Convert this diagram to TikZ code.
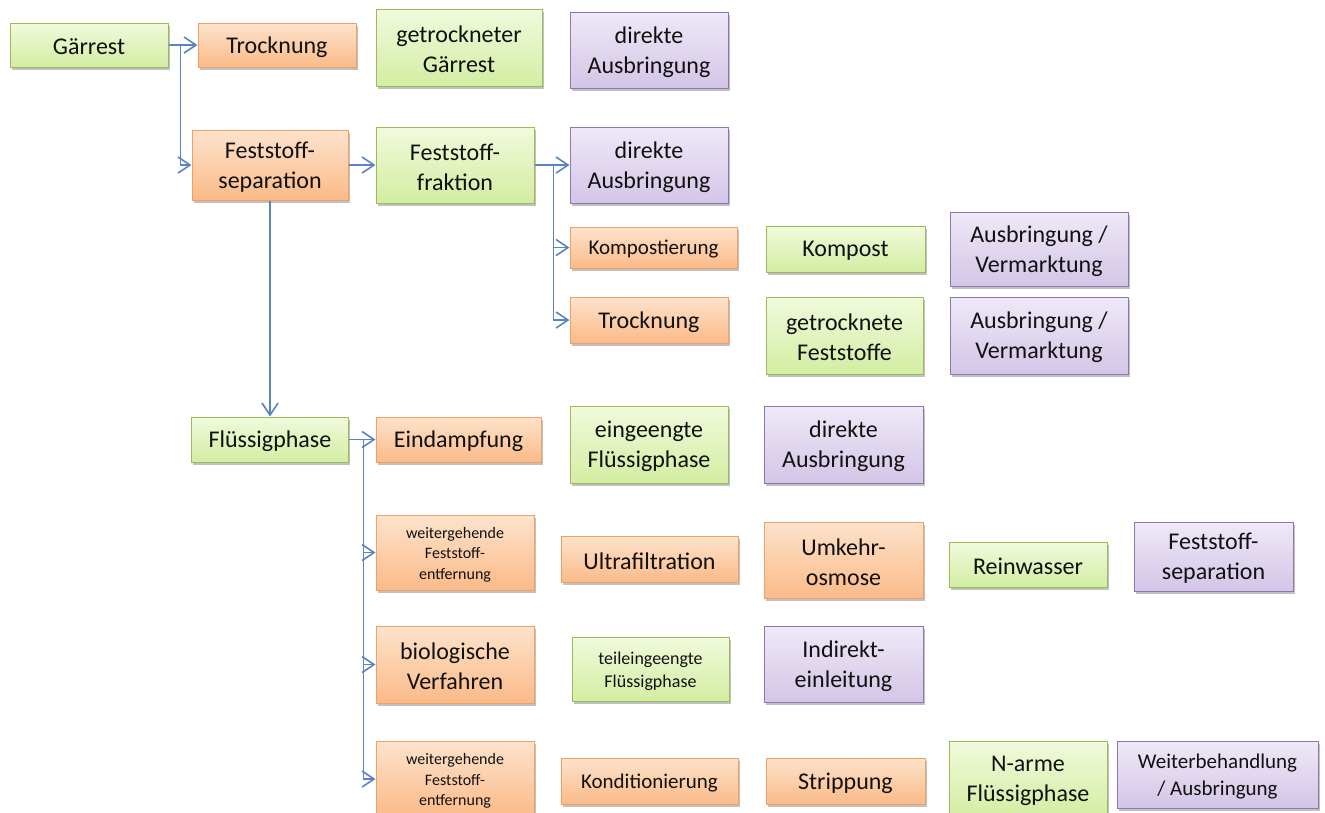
\documentclass[tikz,border=0pt]{standalone}
\usepackage{fontspec}
\setmainfont{Carlito}
\usetikzlibrary{arrows.meta,shadows}

\definecolor{greenTop}{HTML}{F1FADC}
\definecolor{greenBot}{HTML}{D3EDA2}
\definecolor{greenLine}{HTML}{9BBB59}
\definecolor{orangeTop}{HTML}{FDE3CC}
\definecolor{orangeBot}{HTML}{FBBA88}
\definecolor{orangeLine}{HTML}{F0A062}
\definecolor{purpleTop}{HTML}{EFE9F7}
\definecolor{purpleBot}{HTML}{D3C5E7}
\definecolor{purpleLine}{HTML}{8E76AE}
\definecolor{linkBlue}{HTML}{5B83C0}
\definecolor{textGray}{HTML}{111111}

\tikzset{
  box/.style={rectangle, inner sep=0pt, line width=1pt,
    drop shadow={shadow xshift=1.5pt, shadow yshift=-2.5pt, fill=black!70, opacity=0.35}},
  gbox/.style={box, draw=greenLine, top color=greenTop, bottom color=greenBot},
  obox/.style={box, draw=orangeLine, top color=orangeTop, bottom color=orangeBot},
  pbox/.style={box, draw=purpleLine, top color=purpleTop, bottom color=purpleBot},
  boxtext/.style={inner sep=0pt, align=center, text=textGray},
  bigtext/.style={boxtext, font=\fontsize{24}{30}\selectfont},
  redtext/.style={boxtext, font=\fontsize{21}{28}\selectfont},
  midtext/.style={boxtext, font=\fontsize{18}{23}\selectfont},
  smalltext/.style={boxtext, font=\fontsize{16}{20.5}\selectfont},
  link/.style={draw=linkBlue, line width=1.8pt},
  arr/.style={link, -{Straight Barb[length=12pt,width=16pt,line width=1.6pt]}}
}

% box with its label: [text style]{box style}{name}{x}{y}{width}{height}{text}
\newcommand\flowbox[8][bigtext]{%
  \node[#2, minimum width=#6pt, minimum height=#7pt] (#3) at (#4,#5) {};
  \node[#1] (#3-t) at ([yshift=-2pt]#3.center) {#8};
}

\begin{document}
\begin{tikzpicture}[x=1pt,y=-1pt]
\useasboundingbox (0,0) rectangle (1325,812);

% first row
\flowbox{gbox}{gar}{89}{45}{158}{44}{Gärrest}
\flowbox{obox}{tro1}{277}{45}{158}{44}{Trocknung}
\flowbox{gbox}{ggar}{459}{47.5}{166}{77}{getrockneter\\Gärrest}
\flowbox{pbox}{dir1}{649}{50}{158}{76}{direkte\\Ausbringung}

% solid separation branch
\flowbox{obox}{fsep}{270}{165}{156}{70}{Feststoff-\\separation}
\flowbox{gbox}{ffra}{455}{165}{158}{76}{Feststoff-\\fraktion}
\flowbox{pbox}{dir2}{649}{165}{158}{76}{direkte\\Ausbringung}
\flowbox[redtext]{obox}{komp}{653.5}{247.5}{167}{41}{Kompostierung}
\flowbox{obox}{tro2}{649}{320}{158}{46}{Trocknung}
\flowbox{gbox}{kpst}{845.5}{249}{159}{46}{Kompost}
\flowbox{pbox}{aus1}{1039}{249}{178}{74}{Ausbringung /\\Vermarktung}
\flowbox{gbox}{gfest}{844.5}{335.5}{157}{77}{getrocknete\\Feststoffe}
\flowbox{pbox}{aus2}{1039}{335.5}{178}{77}{Ausbringung /\\Vermarktung}

% liquid phase branch
\flowbox{gbox}{flp}{270}{439.5}{157}{45}{Flüssigphase}
\flowbox{obox}{eind}{458.5}{439.5}{165}{45}{Eindampfung}
\flowbox{gbox}{eflp}{649}{444.5}{158}{77}{eingeengte\\Flüssigphase}
\flowbox{pbox}{dir3}{843.5}{444.5}{159}{77}{direkte\\Ausbringung}

\flowbox[smalltext]{obox}{wfe1}{455}{552.5}{158}{75}{weitergehende\\Feststoff-\\entfernung}
\flowbox{obox}{ultra}{649.5}{559}{177}{46}{Ultrafiltration}
\flowbox{obox}{umk}{843.5}{560}{159}{76}{Umkehr-\\osmose}
\flowbox{gbox}{rein}{1028}{564.5}{158}{45}{Reinwasser}
\flowbox{pbox}{fsep2}{1213.5}{556.5}{159}{69}{Feststoff-\\separation}

\flowbox{obox}{bio}{455}{664.5}{158}{77}{biologische\\Verfahren}
\flowbox[midtext]{gbox}{teil}{650.5}{669}{157}{64}{teileingeengte\\Flüssigphase}
\flowbox{pbox}{indir}{843.5}{664}{159}{76}{Indirekt-\\einleitung}

\flowbox[smalltext]{obox}{wfe2}{455}{779}{158}{76}{weitergehende\\Feststoff-\\entfernung}
\flowbox[redtext]{obox}{kond}{649.5}{781}{177}{46}{Konditionierung}
\flowbox{obox}{strip}{845.5}{781}{159}{46}{Strippung}
\flowbox{gbox}{narm}{1028}{779}{158}{76}{N-arme\\Flüssigphase}
\flowbox[redtext]{pbox}{weit}{1217.5}{774.5}{201}{67}{Weiterbehandlung\\/ Ausbringung}

% connectors: each trunk is one path, side branches start on it
\draw[arr] (gar) -- (tro1);
\coordinate (j1) at ([xshift=12pt]gar.east);
\draw[arr] (j1) |- (fsep.west);
\draw[arr] (fsep) -- (ffra);
\draw[arr] (fsep.south) -- (flp.north);

\draw[arr] (ffra) -- (dir2);
\coordinate (j2) at ([xshift=19pt]ffra.east);
\draw[arr] (j2) |- (tro2.west);
\draw[arr] (j2 |- komp.west) -- (komp.west);

\draw[arr] (flp) -- (eind);
\coordinate (j3) at ([xshift=14.5pt]flp.east);
\draw[arr] (j3) |- (wfe2.west);
\draw[arr] (j3 |- wfe1.west) -- (wfe1.west);
\draw[arr] (j3 |- bio.west) -- (bio.west);
\end{tikzpicture}
\end{document}
